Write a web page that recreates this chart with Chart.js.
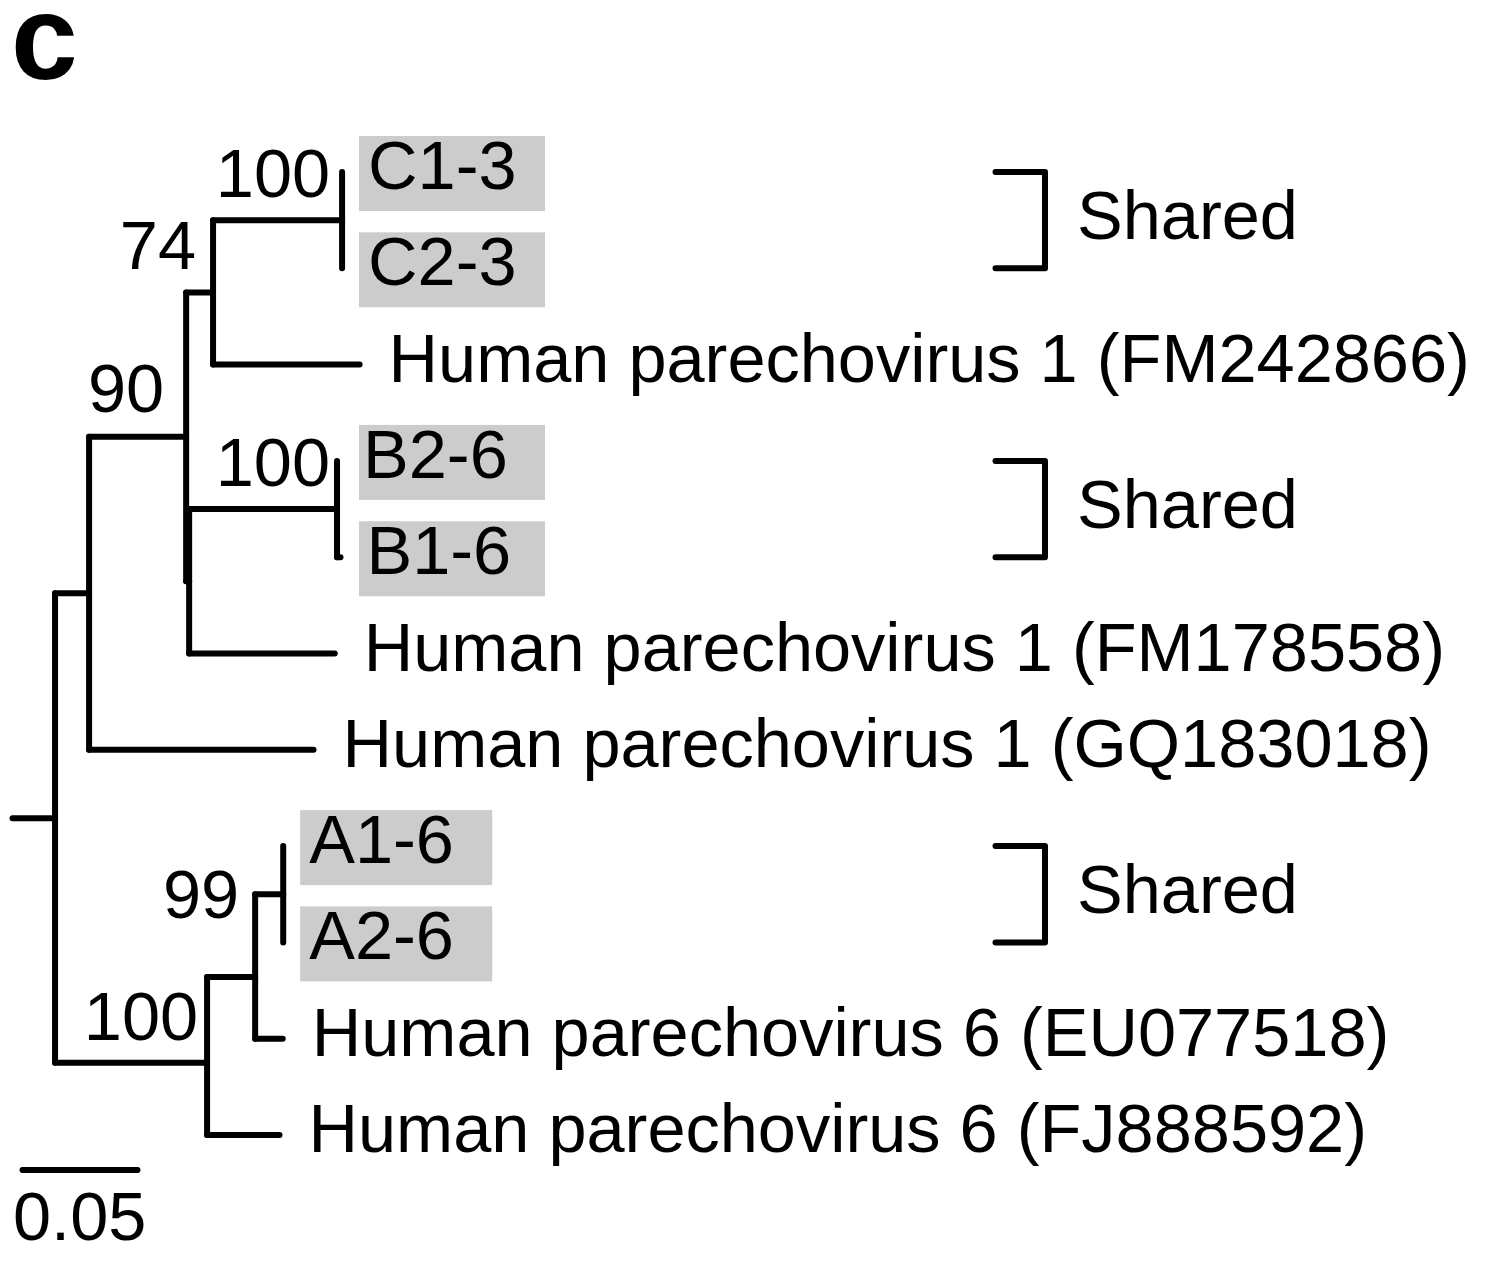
<!DOCTYPE html>
<html>
<head>
<meta charset="utf-8">
<script src="https://cdn.jsdelivr.net/npm/chart.js@4.4.1/dist/chart.umd.min.js"></script>
<style>
  html, body { margin: 0; padding: 0; background: #fff; }
  canvas { display: block; }
</style>
</head>
<body>
<canvas id="tree" width="1487" height="1272"></canvas>
<script>
// Узлы дерева (индекс = номер узла)
const nodeParents   = [-1, 0, 1, 2, 2, 4, 5, 6, 6, 5, 4, 10, 11, 11, 10, 1, 15, 16, 17, 17, 16, 15];
// Длины ветвей (замен на сайт)
const branchLengths = [0, 0.0185, 0.0148, 0.0976, 0.0422, 0.0117, 0.0561, 0, 0, 0.0637, 0.0013,
                       0.0643, 0, 0.0015, 0.0633, 0.0661, 0.0209, 0.0122, 0, 0, 0.0120, 0.0315];
// Ряд узла (0 = верхний лист)
const nodeRows      = [6.71, 6.71, 4.375, 6, 2.75, 1.25, 0.5, 0, 1, 2, 4.25,
                       3.5, 3, 4, 5, 9.25, 8.36, 7.5, 7, 8, 9, 10];
const tipLabels     = ['', '', '', 'Human parechovirus 1 (GQ183018)', '', '', '', 'C1-3', 'C2-3',
                       'Human parechovirus 1 (FM242866)', '', '', 'B2-6', 'B1-6',
                       'Human parechovirus 1 (FM178558)', '', '', '', 'A1-6', 'A2-6',
                       'Human parechovirus 6 (EU077518)', 'Human parechovirus 6 (FJ888592)'];
const highlightedTips = ['C1-3', 'C2-3', 'B2-6', 'B1-6', 'A1-6', 'A2-6'];
// Бутстрэп-поддержка
const supportNodes  = [6, 5, 4, 11, 17, 15];
const supportValues = [100, 74, 90, 100, 99, 100];
// Группы "Shared"
const sharedGroups  = [['C1-3', 'C2-3'], ['B2-6', 'B1-6'], ['A1-6', 'A2-6']];
const sharedLabel   = 'Shared';
const scaleBarLength = 0.05;
const panelLetter   = 'c';

// Накопленные расстояния от корня
const nodeX = [];
nodeParents.forEach((p, i) => {
    nodeX[i] = (p < 0 ? 0 : nodeX[p]) + branchLengths[i];
});

// Сегменты: горизонтальные ветви и вертикальные соединения
const segments = [];
nodeParents.forEach((p, i) => {
    if (p < 0 || branchLengths[i] === 0) return;
    segments.push([{ x: nodeX[p], y: nodeRows[i] }, { x: nodeX[i], y: nodeRows[i] }]);
});
nodeParents.forEach((_, i) => {
    const kids = nodeParents.map((p, j) => p === i ? j : -1).filter(j => j >= 0);
    if (kids.length < 2) return;
    const rows = kids.map(j => nodeRows[j]);
    segments.push([{ x: nodeX[i], y: Math.min(...rows) }, { x: nodeX[i], y: Math.max(...rows) }]);
});

const FONT = '68.5px "Liberation Sans", Arial, sans-serif';
const LINE_W = 6;
const PX_PER_UNIT = 2300;
const X0 = 12.5;
const ROW0 = 172, ROW_STEP = 96.3;

// Смещения подписей поддержки (px): [dx от узла до правого края, dy до базовой линии]
const supportOffsets = { 6: [-12, -23], 5: [-17, -23], 4: [-22, -25], 11: [-7, -23], 17: [-44, 24], 15: [-9, -23] };

const treePlugin = {
    id: 'treeDecor',
    beforeDatasetsDraw(chart) {
        const { ctx, scales: { x, y } } = chart;
        ctx.save();
        ctx.fillStyle = '#cccccc';
        nodeParents.forEach((_, i) => {
            if (!highlightedTips.includes(tipLabels[i])) return;
            const px = x.getPixelForValue(nodeX[i]);
            const py = y.getPixelForValue(nodeRows[i]);
            // боксы выровнены по самому правому листу в паре
            const left = tipLabels[i][0] === 'A' ? px + 17 : 359;
            ctx.fillRect(left, py - 36, tipLabels[i][0] === 'A' ? 192 : 186, 75);
        });
        ctx.restore();
    },
    afterDatasetsDraw(chart) {
        const { ctx, scales: { x, y } } = chart;
        ctx.save();
        ctx.fillStyle = '#000';
        ctx.strokeStyle = '#000';
        ctx.font = FONT;
        ctx.textBaseline = 'alphabetic';

        // Подписи листьев
        ctx.textAlign = 'left';
        nodeParents.forEach((_, i) => {
            if (!tipLabels[i]) return;
            const px = x.getPixelForValue(nodeX[i]);
            const py = y.getPixelForValue(nodeRows[i]);
            const boxed = highlightedTips.includes(tipLabels[i]);
            ctx.fillText(tipLabels[i], px + (boxed ? 26 : 29), py + 17);
        });

        // Бутстрэп
        ctx.textAlign = 'right';
        supportNodes.forEach((n, k) => {
            const off = supportOffsets[n];
            const px = x.getPixelForValue(nodeX[n]);
            const py = y.getPixelForValue(nodeRows[n]);
            ctx.fillText(String(supportValues[k]), px + off[0], py + off[1]);
        });

        // Скобки "Shared"
        ctx.lineWidth = LINE_W;
        ctx.lineCap = 'round';
        ctx.lineJoin = 'round';
        ctx.textAlign = 'left';
        sharedGroups.forEach(group => {
            const rows = group.map(t => nodeRows[tipLabels.indexOf(t)]);
            const top = y.getPixelForValue(Math.min(...rows));
            const bot = y.getPixelForValue(Math.max(...rows));
            ctx.beginPath();
            ctx.moveTo(995.5, top);
            ctx.lineTo(1045, top);
            ctx.lineTo(1045, bot);
            ctx.lineTo(995.5, bot);
            ctx.stroke();
            ctx.fillText(sharedLabel, 1077, (top + bot) / 2 + 19);
        });

        // Масштабная линейка
        const sx0 = 22.5;
        const sx1 = sx0 + (x.getPixelForValue(scaleBarLength) - x.getPixelForValue(0));
        ctx.beginPath();
        ctx.moveTo(sx0, 1170);
        ctx.lineTo(sx1, 1170);
        ctx.stroke();
        ctx.fillText(String(scaleBarLength), 13, 1240);

        // Буква панели
        ctx.font = 'bold 120px "Liberation Sans", Arial, sans-serif';
        ctx.fillText(panelLetter, 11, 79);
        ctx.restore();
    }
};

new Chart(document.getElementById('tree'), {
    type: 'scatter',
    data: {
        datasets: segments.map(seg => ({
            data: seg,
            showLine: true,
            borderColor: '#000',
            borderWidth: LINE_W,
            borderCapStyle: 'round',
            pointRadius: 0,
            pointHoverRadius: 0,
            fill: false
        }))
    },
    options: {
        responsive: false,
        devicePixelRatio: 1,
        animation: false,
        layout: { padding: 0 },
        plugins: { legend: { display: false }, tooltip: { enabled: false } },
        scales: {
            x: { type: 'linear', display: false, min: -X0 / PX_PER_UNIT, max: (1487 - X0) / PX_PER_UNIT },
            y: { type: 'linear', display: false, reverse: true, min: -ROW0 / ROW_STEP, max: (1272 - ROW0) / ROW_STEP }
        }
    },
    plugins: [treePlugin]
});
</script>
</body>
</html>
